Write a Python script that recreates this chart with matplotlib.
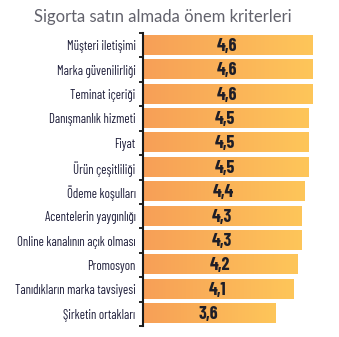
import numpy as np
import matplotlib.pyplot as plt
from matplotlib.colors import LinearSegmentedColormap

# Veriler
kriterler = ['Müşteri iletişimi', 'Marka güvenilirliği', 'Teminat içeriği',
             'Danışmanlık hizmeti', 'Fiyat', 'Ürün çeşitliliği',
             'Ödeme koşulları', 'Acentelerin yaygınlığı',
             'Online kanalının açık olması', 'Promosyon',
             'Tanıdıkların marka tavsiyesi', 'Şirketin ortakları']
puanlar = [4.6, 4.6, 4.6, 4.5, 4.5, 4.5, 4.4, 4.3, 4.3, 4.2, 4.1, 3.6]

DAR = ['Barlow Condensed', 'DejaVu Sans']

cmap = LinearSegmentedColormap.from_list('turuncu', ['#F79F57', '#FEC65A'])
grad = np.linspace(0, 1, 256).reshape(1, -1)

W, H = 339, 337
fig = plt.figure(figsize=(W / 100, H / 100), dpi=100)
ax = fig.add_axes([142.5 / W, (H - 326) / H, 184 / W, 293 / H])

n = len(kriterler)
h = 0.78
for i, v in enumerate(puanlar):
    ax.imshow(grad, cmap=cmap, aspect='auto', extent=[0, v, i + h / 2, i - h / 2],
              interpolation='bilinear')
    ax.text(v / 2, i + 0.04, f'{v:.1f}'.replace('.', ','), ha='center', va='center',
            fontsize=13, fontweight='bold', color='#1e1e28', family=DAR)

ax.set_xlim(0, 5.0)
ax.set_ylim(n - 0.5, -0.5)
ax.set_yticks(range(n))
ax.set_yticklabels(kriterler, family=DAR, fontsize=9.2, color='#1e1e3a')
ax.set_yticks(np.arange(-0.5, n, 1), minor=True)
ax.tick_params(axis='y', which='major', length=0, pad=5)
ax.tick_params(axis='y', which='minor', length=3, width=1.2, direction='out')
ax.set_xticks([])
for s in ['top', 'right', 'bottom']:
    ax.spines[s].set_visible(False)
ax.spines['left'].set_linewidth(1.5)
ax.spines['left'].set_color('#1a1a1a')

fig.text(34 / W, 1 - 17 / H, 'Sigorta satın almada önem kriterleri', ha='left',
         va='center', fontsize=12, color='#62626c', family=['Lato', 'DejaVu Sans'],
         fontweight='normal')

fig.savefig('out.png', dpi=100)
